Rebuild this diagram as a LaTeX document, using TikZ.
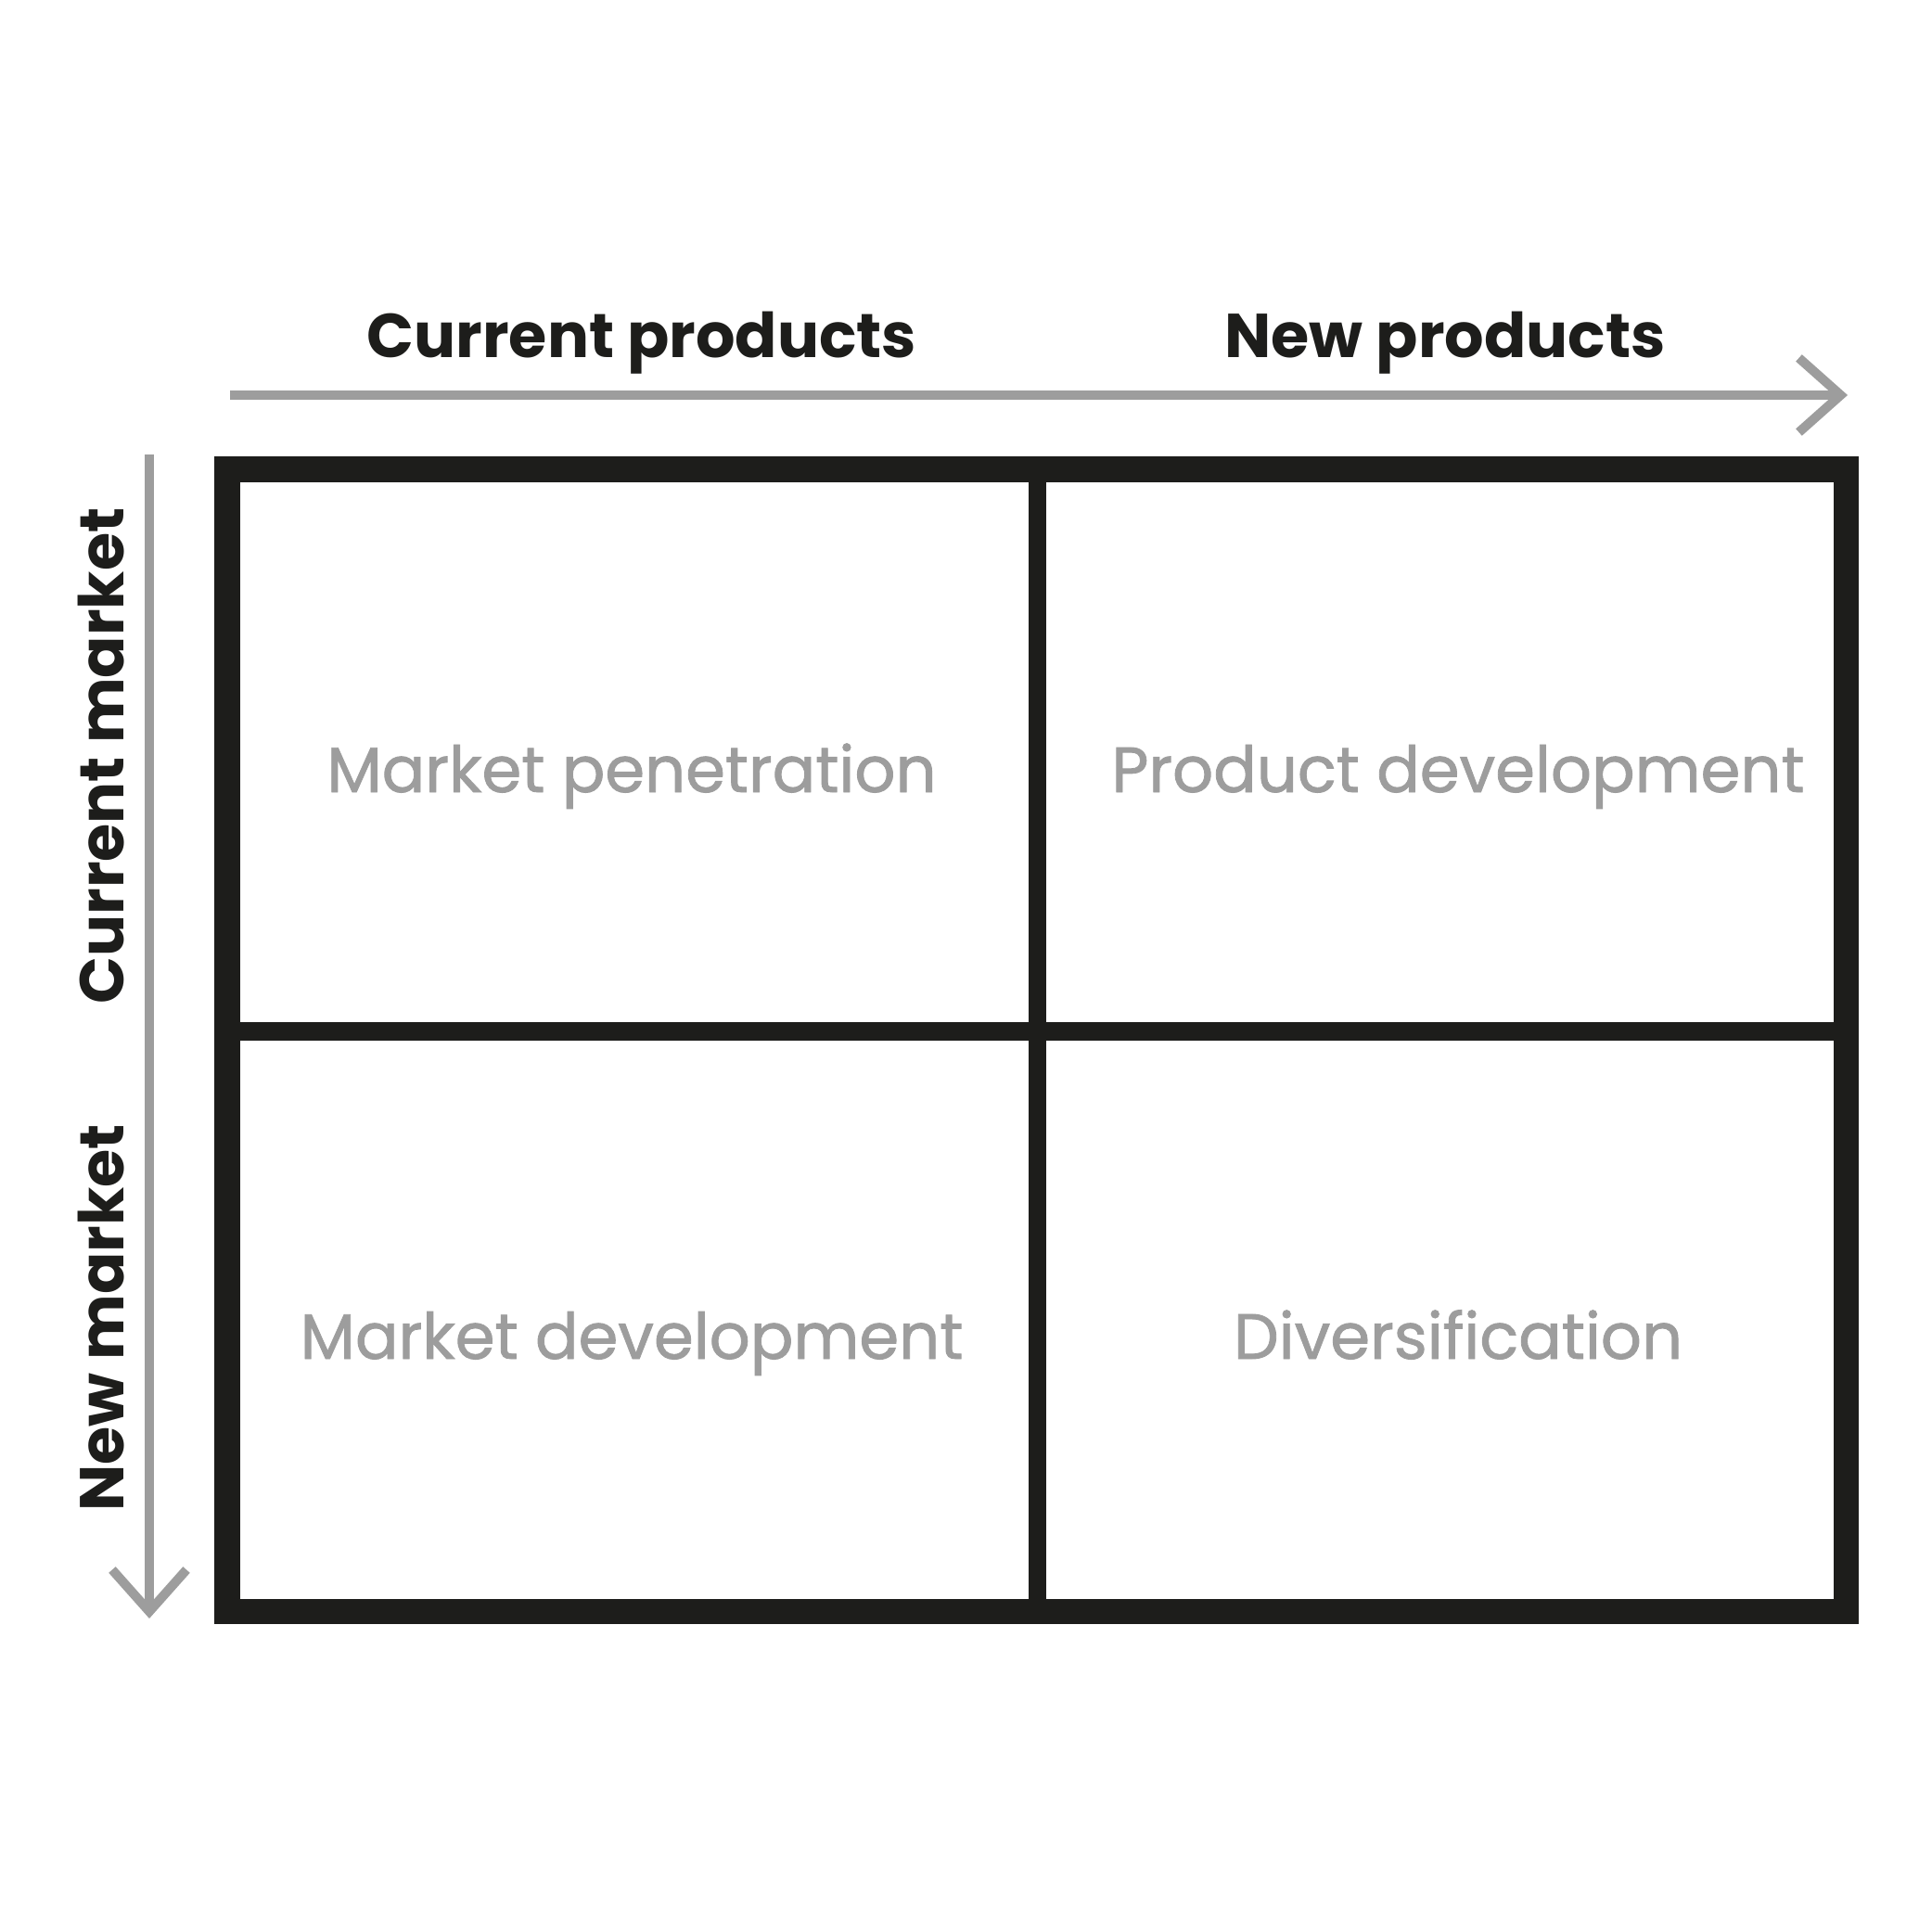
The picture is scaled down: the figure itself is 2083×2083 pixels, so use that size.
\documentclass[tikz,border=0pt]{standalone}
\usepackage{fontspec}
\setmainfont{Poppins}
\newfontfamily\cellfont{Poppins}[FakeBold=1.2]
\usetikzlibrary{arrows.meta}
\definecolor{ink}{HTML}{1D1D1B}
\definecolor{soft}{HTML}{9D9D9D}
\tikzset{
  axis/.style={draw=soft, line width=0.1cm,
    -{Straight Barb[length=0.45cm,width=0.8cm,sharp]}},
  head/.style={text=ink, font=\fontsize{19}{22}\selectfont\bfseries, inner sep=0pt},
  cell/.style={text=soft, font=\fontsize{19.6}{22}\selectfont\cellfont, inner sep=0pt}
}
\begin{document}
\begin{tikzpicture}[x=0.01cm, y=-0.01cm]
  \useasboundingbox (0,0) rectangle (2083,2083);
  % axes
  \coordinate (x0) at (248,426);
  \coordinate (x1) at (1992,426);
  \coordinate (y0) at (161,490);
  \coordinate (y1) at (161,1745);
  \draw[axis] (x0) -- (x1);
  \draw[axis] (y0) -- (y1);
  % grid
  \draw[ink, line width=0.27cm] (245,506) rectangle (1990,1737);
  \draw[ink, line width=0.19cm] (1118,506) -- (1118,1737);
  \draw[ink, line width=0.19cm] (245,1112) -- (1990,1112);
  % headings
  \node[head, anchor=base] (cp) at (692,386) {Current products};
  \node[head, anchor=base] (np) at (1558,386) {New products};
  \node[head, anchor=base, rotate=90] (cm) at (133,815) {Current market};
  \node[head, anchor=base, rotate=90] (nm) at (133,1421) {New market};
  % cells
  \node[cell, anchor=base] (mp) at (681,854) {Market penetration};
  \node[cell, anchor=base] (pd) at (1572,854) {Product development};
  \node[cell, anchor=base] (md) at (681,1465) {Market development};
  \node[cell, anchor=base] (dv) at (1572,1465) {Diversification};
\end{tikzpicture}
\end{document}
